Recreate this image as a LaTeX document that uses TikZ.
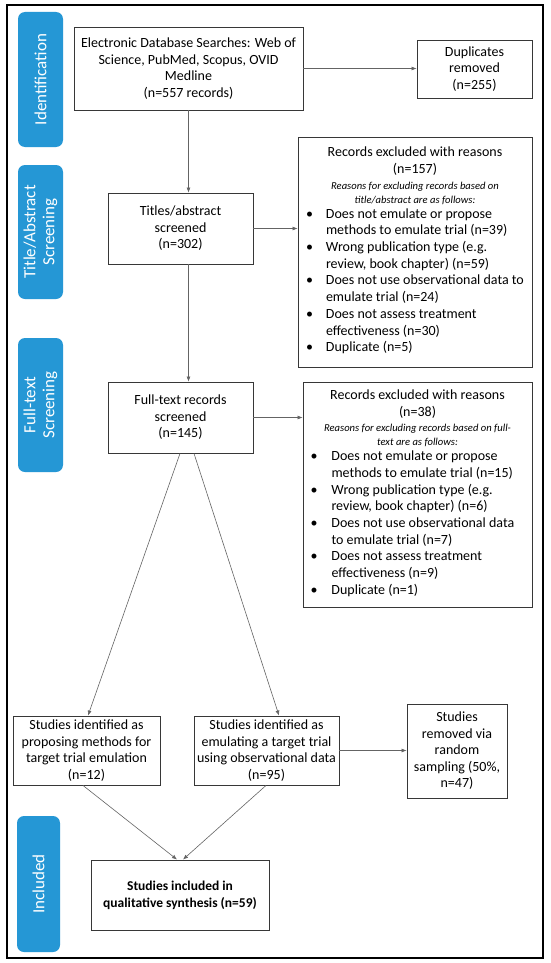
\documentclass[tikz,border=0pt]{standalone}
\usepackage{fontspec}
\setmainfont{Carlito}
\usetikzlibrary{arrows.meta,calc}
\definecolor{stageblue}{RGB}{37,151,213}
\definecolor{boxline}{RGB}{55,55,55}
\definecolor{arrowline}{RGB}{100,100,100}
\newcommand{\mainsz}{\fontsize{14}{16.5}\selectfont}
\newcommand{\exsz}{\fontsize{14}{16.7}\selectfont}
\newcommand{\itsz}{\fontsize{10.6}{14}\selectfont\itshape}
\begin{document}
\begin{tikzpicture}[x=1pt,y=-1pt,
  stage/.style={draw=none,fill=stageblue,rounded corners=7pt,text=white,rotate=90,
    font=\fontsize{17}{19}\selectfont,align=center,inner sep=0pt},
  box/.style={draw=boxline,line width=0.9pt,fill=white,align=center,inner sep=2pt,
    font=\mainsz},
  exbox/.style={draw=boxline,line width=0.9pt,fill=white,inner sep=2pt,font=\exsz},
  conn/.style={draw=arrowline,line width=0.6pt,-{Latex[length=5pt,width=4pt]}}]
\useasboundingbox (0,0) rectangle (550,963);
\fill[white] (0,0) rectangle (550,963);
\draw[line width=1.3pt] (7,5) rectangle (543,958);

% stage bars
\node[stage,minimum width=135,minimum height=45] (s1) at (40.5,79.5) {Identification};
\node[stage,minimum width=134,minimum height=45] (s2) at (40.5,232) {Title/Abstract\\Screening};
\node[stage,minimum width=134,minimum height=45] (s3) at (40.5,405) {Full-text\\Screening};
\node[stage,minimum width=136,minimum height=43] (s4) at (38.5,884) {Included};

% boxes
\node[box,minimum width=229,minimum height=83] (search) at (188.5,68.5)
  {Electronic Database Searches: Web of\\Science, PubMed, Scopus, OVID\\Medline\\(n=557 records)};
\node[box,minimum width=115,minimum height=58] (dup) at (474.5,69)
  {Duplicates\\removed\\(n=255)};
\node[box,minimum width=145,minimum height=71] (titles) at (180.5,228.5)
  {Titles/abstract\\screened\\(n=302)};
\node[exbox,minimum width=234,minimum height=230] (excl1) at (415,252)
  {\begin{minipage}{226pt}\centering
   Records excluded with reasons\\(n=157)\par\vspace{1.5pt}
   {\itsz Reasons for excluding records based on\\title/abstract are as follows:\par}\vspace{1pt}
   \raggedright\hspace*{4pt}\begin{tabular}{@{}p{20pt}@{}l@{}}
   •& Does not emulate or propose\\
    & methods to emulate trial (n=39)\\
   •& Wrong publication type (e.g.\\
    & review, book chapter) (n=59)\\
   •& Does not use observational data to\\
    & emulate trial (n=24)\\
   •& Does not assess treatment\\
    & effectiveness (n=30)\\
   •& Duplicate (n=5)
   \end{tabular}\par
   \end{minipage}};
\node[box,minimum width=145,minimum height=71] (full) at (180.5,417.5)
  {Full-text records\\screened\\(n=145)};
\node[exbox,minimum width=229,minimum height=225] (excl2) at (417.5,494.5)
  {\begin{minipage}{222pt}\centering
   Records excluded with reasons\\(n=38)\par\vspace{1.5pt}
   {\itsz Reasons for excluding records based on full-\\text are as follows:\par}\vspace{1pt}
   \raggedright\hspace*{4pt}\begin{tabular}{@{}p{21pt}@{}l@{}}
   •& Does not emulate or propose\\
    & methods to emulate trial (n=15)\\
   •& Wrong publication type (e.g.\\
    & review, book chapter) (n=6)\\
   •& Does not use observational data\\
    & to emulate trial (n=7)\\
   •& Does not assess treatment\\
    & effectiveness (n=9)\\
   •& Duplicate (n=1)
   \end{tabular}\par
   \end{minipage}};
\node[box,minimum width=147,minimum height=69] (prop) at (86.5,750.5)
  {Studies identified as\\proposing methods for\\target trial emulation\\(n=12)};
\node[box,minimum width=145,minimum height=69] (emul) at (266.5,750.5)
  {Studies identified as\\emulating a target trial\\using observational data\\(n=95)};
\node[box,minimum width=100,minimum height=94] (removed) at (457,751)
  {Studies\\removed via\\random\\sampling (50\%,\\n=47)};
\node[box,minimum width=178,minimum height=70,font=\fontsize{13.5}{17}\selectfont\bfseries] (final) at (180,895)
  {Studies included in\\qualitative synthesis (n=59)};

% connectors
\draw[conn] (search.east) -- (search.east -| dup.west);
\draw[conn] (search.south) -- (search.south |- titles.north);
\draw[conn] (titles.east) -- (titles.east -| excl1.west);
\draw[conn] (search.south |- titles.south) -- (search.south |- full.north);
\draw[conn] (full.east) -- (full.east -| excl2.west);
\draw[conn] ($(full.south)+(-0.5,0)$) -- ($(prop.north)+(1.5,0)$);
\draw[conn] ($(full.south)+(13.5,0)$) -- ($(emul.north)+(12.5,0)$);
\draw[conn] (emul.east) -- (emul.east -| removed.west);
\draw[conn] ($(prop.south)+(-3.5,0)$) -- ($(final.north)+(-3,0)$);
\draw[conn] ($(emul.south)+(-0.5,0)$) -- ($(final.north)+(3,0)$);
\end{tikzpicture}
\end{document}
